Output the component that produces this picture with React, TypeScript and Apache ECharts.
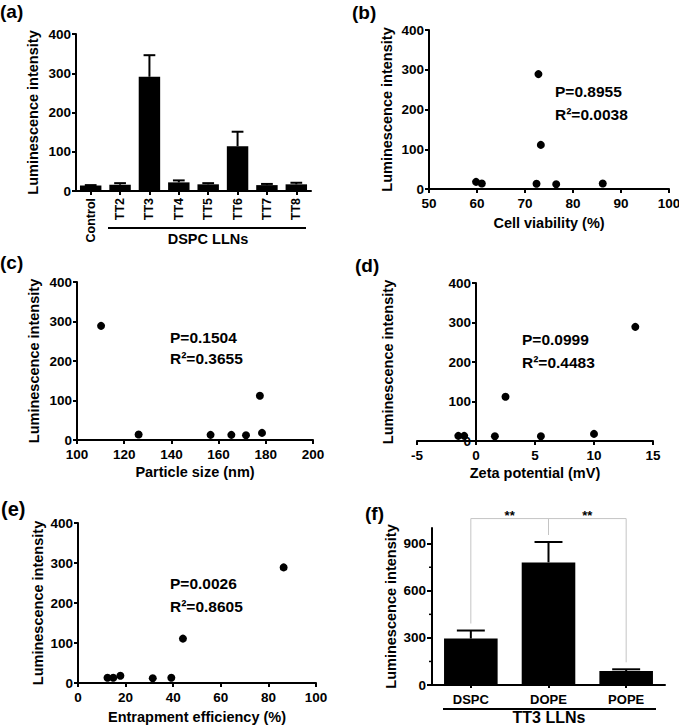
import React, { useEffect, useRef } from 'react';
import * as echarts from 'echarts';

const FONT = "'Liberation Sans', Arial, Helvetica, sans-serif";

// (a) DSPC LLNs bar chart
const barCategories = ['Control', 'TT2', 'TT3', 'TT4', 'TT5', 'TT6', 'TT7', 'TT8'];
const barMeans = [14, 16, 291, 22, 17, 114, 15, 17];
const barErrTops = [15, 20, 346, 27, 20, 151, 18, 21];

// (b) cell viability
const viability = [59.8, 61.0, 72.4, 72.8, 73.3, 76.5, 86.2];
const lumViability = [18, 14, 13, 289, 111, 12, 14];

// (c) particle size
const particleSize = [110.2, 126.1, 156.6, 165.4, 171.6, 177.5, 178.4];
const lumSize = [289, 14, 13, 13, 12, 112, 18];

// (d) zeta potential
const zeta = [-1.5, -1.0, 1.6, 2.5, 5.5, 10.0, 13.5];
const lumZeta = [13, 13, 12, 112, 12, 18, 289];
const zetaMin = -5;
const zetaMax = 15;

// (e) entrapment efficiency
const entrapment = [12.4, 14.8, 17.8, 31.4, 39.2, 44.1, 86.4];
const lumEntrap = [13, 13, 18, 12, 13, 111, 289];

// (f) TT3 LLNs with different lipids
const lipidCategories = ['DSPC', 'DOPE', 'POPE'];
const lipidMeans = [296, 781, 89];
const lipidErrTops = [347, 911, 100];
const lipidMajorTicks = [0, 300, 600, 900];
const lipidMinorTicks = [150, 450, 750];
const sigPairs = [[0, 1], [1, 2]];
const sigLabels = ['**', '**'];
const sigTop = 1060;

const statTexts = [
  ['P=0.8955', 'R\u00B2=0.0038'],
  ['P=0.1504', 'R\u00B2=0.3655'],
  ['P=0.0999', 'R\u00B2=0.4483'],
  ['P=0.0026', 'R\u00B2=0.8605'],
];

const zip = (xs: number[], ys: number[]) => xs.map((x, i) => [x, ys[i]]);

const TICK_FONT = 13.5;

const axisLineStyle = { show: true, onZero: true, lineStyle: { color: '#000', width: 2 } };
const tickStyle = (len: number, extra: any = {}) => ({
  show: true,
  length: len,
  lineStyle: { color: '#000', width: 2 },
  ...extra,
});
const labelStyle = (size: number, margin: number, extra: any = {}) => ({
  color: '#000',
  fontFamily: FONT,
  fontWeight: 'bold',
  fontSize: size,
  margin,
  ...extra,
});
const nameStyle = { color: '#000', fontFamily: FONT, fontWeight: 'bold', fontSize: 14.5 };

const lumAxis = (gridIndex: number, nameGap: number, extra: any = {}) => ({
  type: 'value',
  gridIndex,
  min: 0,
  max: 400,
  interval: 100,
  axisLine: axisLineStyle,
  axisTick: tickStyle(4),
  axisLabel: labelStyle(TICK_FONT, 5),
  splitLine: { show: false },
  name: 'Luminescence intensity',
  nameLocation: 'middle',
  nameGap,
  nameTextStyle: nameStyle,
  ...extra,
});

const valueXAxis = (gridIndex: number, min: number, max: number, interval: number, name: string, nameGap: number) => ({
  type: 'value',
  gridIndex,
  min,
  max,
  interval,
  axisLine: axisLineStyle,
  axisTick: tickStyle(4),
  axisLabel: labelStyle(TICK_FONT, 7),
  splitLine: { show: false },
  name,
  nameLocation: 'middle',
  nameGap,
  nameTextStyle: nameStyle,
});

const errorBarRenderer = (capFrac: number) => (params: any, api: any) => {
  const x = api.value(0);
  const v = api.value(1);
  const e = api.value(2);
  const p0 = api.coord([x, v]);
  const p1 = api.coord([x, e]);
  const band = api.size([1, 0])[0];
  const half = band * capFrac;
  const style = { stroke: '#000', lineWidth: 2 };
  return {
    type: 'group',
    children: [
      { type: 'line', shape: { x1: p0[0], y1: p0[1], x2: p1[0], y2: p1[1] }, style },
      { type: 'line', shape: { x1: p1[0] - half, y1: p1[1], x2: p1[0] + half, y2: p1[1] }, style },
    ],
  };
};

const scatterSeries = (idx: number, xs: number[], ys: number[]) => ({
  type: 'scatter',
  xAxisIndex: idx,
  yAxisIndex: idx,
  symbol: 'circle',
  symbolSize: 8,
  itemStyle: { color: '#000', opacity: 1 },
  data: zip(xs, ys),
});

const txt = (text: string, x: number, y: number, size: number, align = 'left', vAlign = 'middle', extra: any = {}) => ({
  type: 'text',
  x,
  y,
  silent: true,
  style: {
    text,
    fill: '#000',
    font: `bold ${size}px ${FONT}`,
    textAlign: align,
    align,
    textVerticalAlign: vAlign,
    verticalAlign: vAlign,
    ...extra,
  },
});

const hline = (x1: number, x2: number, y: number) => ({
  type: 'line',
  silent: true,
  shape: { x1, y1: y, x2, y2: y },
  style: { stroke: '#000', lineWidth: 2 },
});

export default function App() {
  const ref = useRef<HTMLDivElement>(null);

  useEffect(() => {
    document.body.style.margin = '0';
    if (!ref.current) return;
    const chart = echarts.init(ref.current, undefined, { renderer: 'svg' });

    const gridBase = { containLabel: false, outerBoundsMode: 'none', show: false };
    const gridD = { left: 417, top: 283, width: 236, height: 158 };
    // y axis of (d) crosses the x axis at zeta = 0
    const zeroOffsetD = -((0 - zetaMin) / (zetaMax - zetaMin)) * gridD.width;

    const option: any = {
      animation: false,
      backgroundColor: '#fff',
      textStyle: { fontFamily: FONT },
      grid: [
        { ...gridBase, left: 76, top: 34, width: 235, height: 157 },
        { ...gridBase, left: 429, top: 30, width: 240, height: 159 },
        { ...gridBase, left: 77, top: 282, width: 236, height: 158 },
        { ...gridBase, ...gridD },
        { ...gridBase, left: 78, top: 523, width: 238, height: 160 },
        { ...gridBase, left: 432, top: 528, width: 233, height: 157 },
      ],
      xAxis: [
        {
          type: 'category',
          gridIndex: 0,
          data: barCategories,
          boundaryGap: true,
          axisLine: axisLineStyle,
          axisTick: tickStyle(4, { alignWithLabel: true }),
          axisLabel: labelStyle(12.5, 7, { rotate: 90, interval: 0 }),
        },
        valueXAxis(1, 50, 100, 10, 'Cell viability (%)', 26),
        valueXAxis(2, 100, 200, 20, 'Particle size (nm)', 24),
        valueXAxis(3, zetaMin, zetaMax, 5, 'Zeta potential (mV)', 24),
        valueXAxis(4, 0, 100, 20, 'Entrapment efficiency (%)', 26),
        {
          type: 'category',
          gridIndex: 5,
          data: lipidCategories,
          boundaryGap: true,
          axisLine: axisLineStyle,
          axisTick: tickStyle(3, { alignWithLabel: true }),
          axisLabel: labelStyle(13, 8, { interval: 0 }),
        },
      ],
      yAxis: [
        lumAxis(0, 36),
        lumAxis(1, 35),
        lumAxis(2, 36),
        lumAxis(3, 81, {
          offset: zeroOffsetD,
          axisLine: { ...axisLineStyle, onZero: false },
        }),
        lumAxis(4, 33),
        {
          type: 'value',
          gridIndex: 5,
          position: 'left',
          min: 0,
          max: 1000,
          interval: 300,
          axisLine: axisLineStyle,
          axisTick: tickStyle(5, { customValues: lipidMajorTicks }),
          axisLabel: labelStyle(TICK_FONT, 6, {
            customValues: lipidMajorTicks,
            formatter: (v: number) => (v > 900 ? '' : String(v)),
          }),
          splitLine: { show: false },
          name: 'Luminescence intensity',
          nameLocation: 'middle',
          nameGap: 34,
          nameTextStyle: nameStyle,
        },
      ],
      series: [
        {
          type: 'bar',
          xAxisIndex: 0,
          yAxisIndex: 0,
          barWidth: '73%',
          itemStyle: { color: '#000' },
          data: barMeans,
        },
        {
          type: 'custom',
          xAxisIndex: 0,
          yAxisIndex: 0,
          z: 3,
          silent: true,
          data: barCategories.map((_, i) => [i, barMeans[i], barErrTops[i]]),
          encode: { x: 0, y: [1, 2] },
          renderItem: errorBarRenderer(0.2),
        },
        scatterSeries(1, viability, lumViability),
        scatterSeries(2, particleSize, lumSize),
        scatterSeries(3, zeta, lumZeta),
        scatterSeries(4, entrapment, lumEntrap),
        {
          type: 'bar',
          xAxisIndex: 5,
          yAxisIndex: 5,
          barWidth: '69%',
          itemStyle: { color: '#000' },
          data: lipidMeans,
        },
        {
          type: 'custom',
          xAxisIndex: 5,
          yAxisIndex: 5,
          z: 3,
          silent: true,
          data: lipidCategories.map((_, i) => [i, lipidMeans[i], lipidErrTops[i]]),
          encode: { x: 0, y: [1, 2] },
          renderItem: errorBarRenderer(0.18),
        },
        {
          // minor ticks of the (f) y axis
          type: 'custom',
          xAxisIndex: 5,
          yAxisIndex: 5,
          clip: false,
          silent: true,
          z: 4,
          data: lipidMinorTicks.map((v) => [0, v]),
          encode: { x: 0, y: 1 },
          renderItem: (params: any, api: any) => {
            const p = api.coord([0, api.value(1)]);
            const band = api.size([1, 0])[0];
            const xLeft = p[0] - band / 2;
            return {
              type: 'line',
              shape: { x1: xLeft - 3, y1: p[1], x2: xLeft, y2: p[1] },
              style: { stroke: '#000', lineWidth: 1.5 },
            };
          },
        },
        {
          type: 'custom',
          xAxisIndex: 5,
          yAxisIndex: 5,
          clip: false,
          silent: true,
          z: 4,
          data: sigPairs.map(([a, b]) => [a, b, sigTop, lipidErrTops[a], lipidErrTops[b]]),
          encode: { x: [0, 1], y: [2] },
          renderItem: (params: any, api: any) => {
            const a = api.value(0);
            const b = api.value(1);
            const top = api.value(2);
            const pa = api.coord([a, top]);
            const pb = api.coord([b, top]);
            const fa = api.coord([a, api.value(3)]);
            const fb = api.coord([b, api.value(4)]);
            const gap = 7;
            return {
              type: 'group',
              children: [
                {
                  type: 'polyline',
                  shape: {
                    points: [
                      [pa[0], fa[1] - gap],
                      [pa[0], pa[1]],
                      [pb[0], pb[1]],
                      [pb[0], fb[1] - gap],
                    ],
                  },
                  style: { stroke: '#c4c4c4', lineWidth: 1, fill: null },
                },
                {
                  type: 'text',
                  x: (pa[0] + pb[0]) / 2,
                  y: pa[1] - 3,
                  style: {
                    text: sigLabels[params.dataIndex],
                    fill: '#000',
                    fontSize: 13,
                    fontWeight: 'bold',
                    fontFamily: FONT,
                    align: 'center',
                    verticalAlign: 'middle',
                  },
                },
              ],
            };
          },
        },
      ],
      graphic: [
        txt('(a)', 0, 11, 19),
        txt('(b)', 352, 12, 19),
        txt('(c)', 0, 262, 19),
        txt('(d)', 355, 265, 19),
        txt('(e)', 1, 509, 20),
        txt('(f)', 365, 513, 19),
        txt(statTexts[0][0], 555, 91, 15.5),
        txt(statTexts[0][1], 555, 114, 15.5),
        txt(statTexts[1][0], 170, 337, 15.5),
        txt(statTexts[1][1], 170, 358, 15.5),
        txt(statTexts[2][0], 522, 339, 15.5),
        txt(statTexts[2][1], 522, 362, 15.5),
        txt(statTexts[3][0], 170, 583, 15.5),
        txt(statTexts[3][1], 170, 606, 15.5),
        hline(108, 306, 228),
        txt('DSPC LLNs', 208, 239, 14.5, 'center'),
        hline(443, 656, 709),
        txt('TT3 LLNs', 549, 725, 16, 'center', 'bottom'),
      ],
    };

    chart.setOption(option);
    return () => chart.dispose();
  }, []);

  return <div ref={ref} style={{ width: 679, height: 726 }} />;
}
